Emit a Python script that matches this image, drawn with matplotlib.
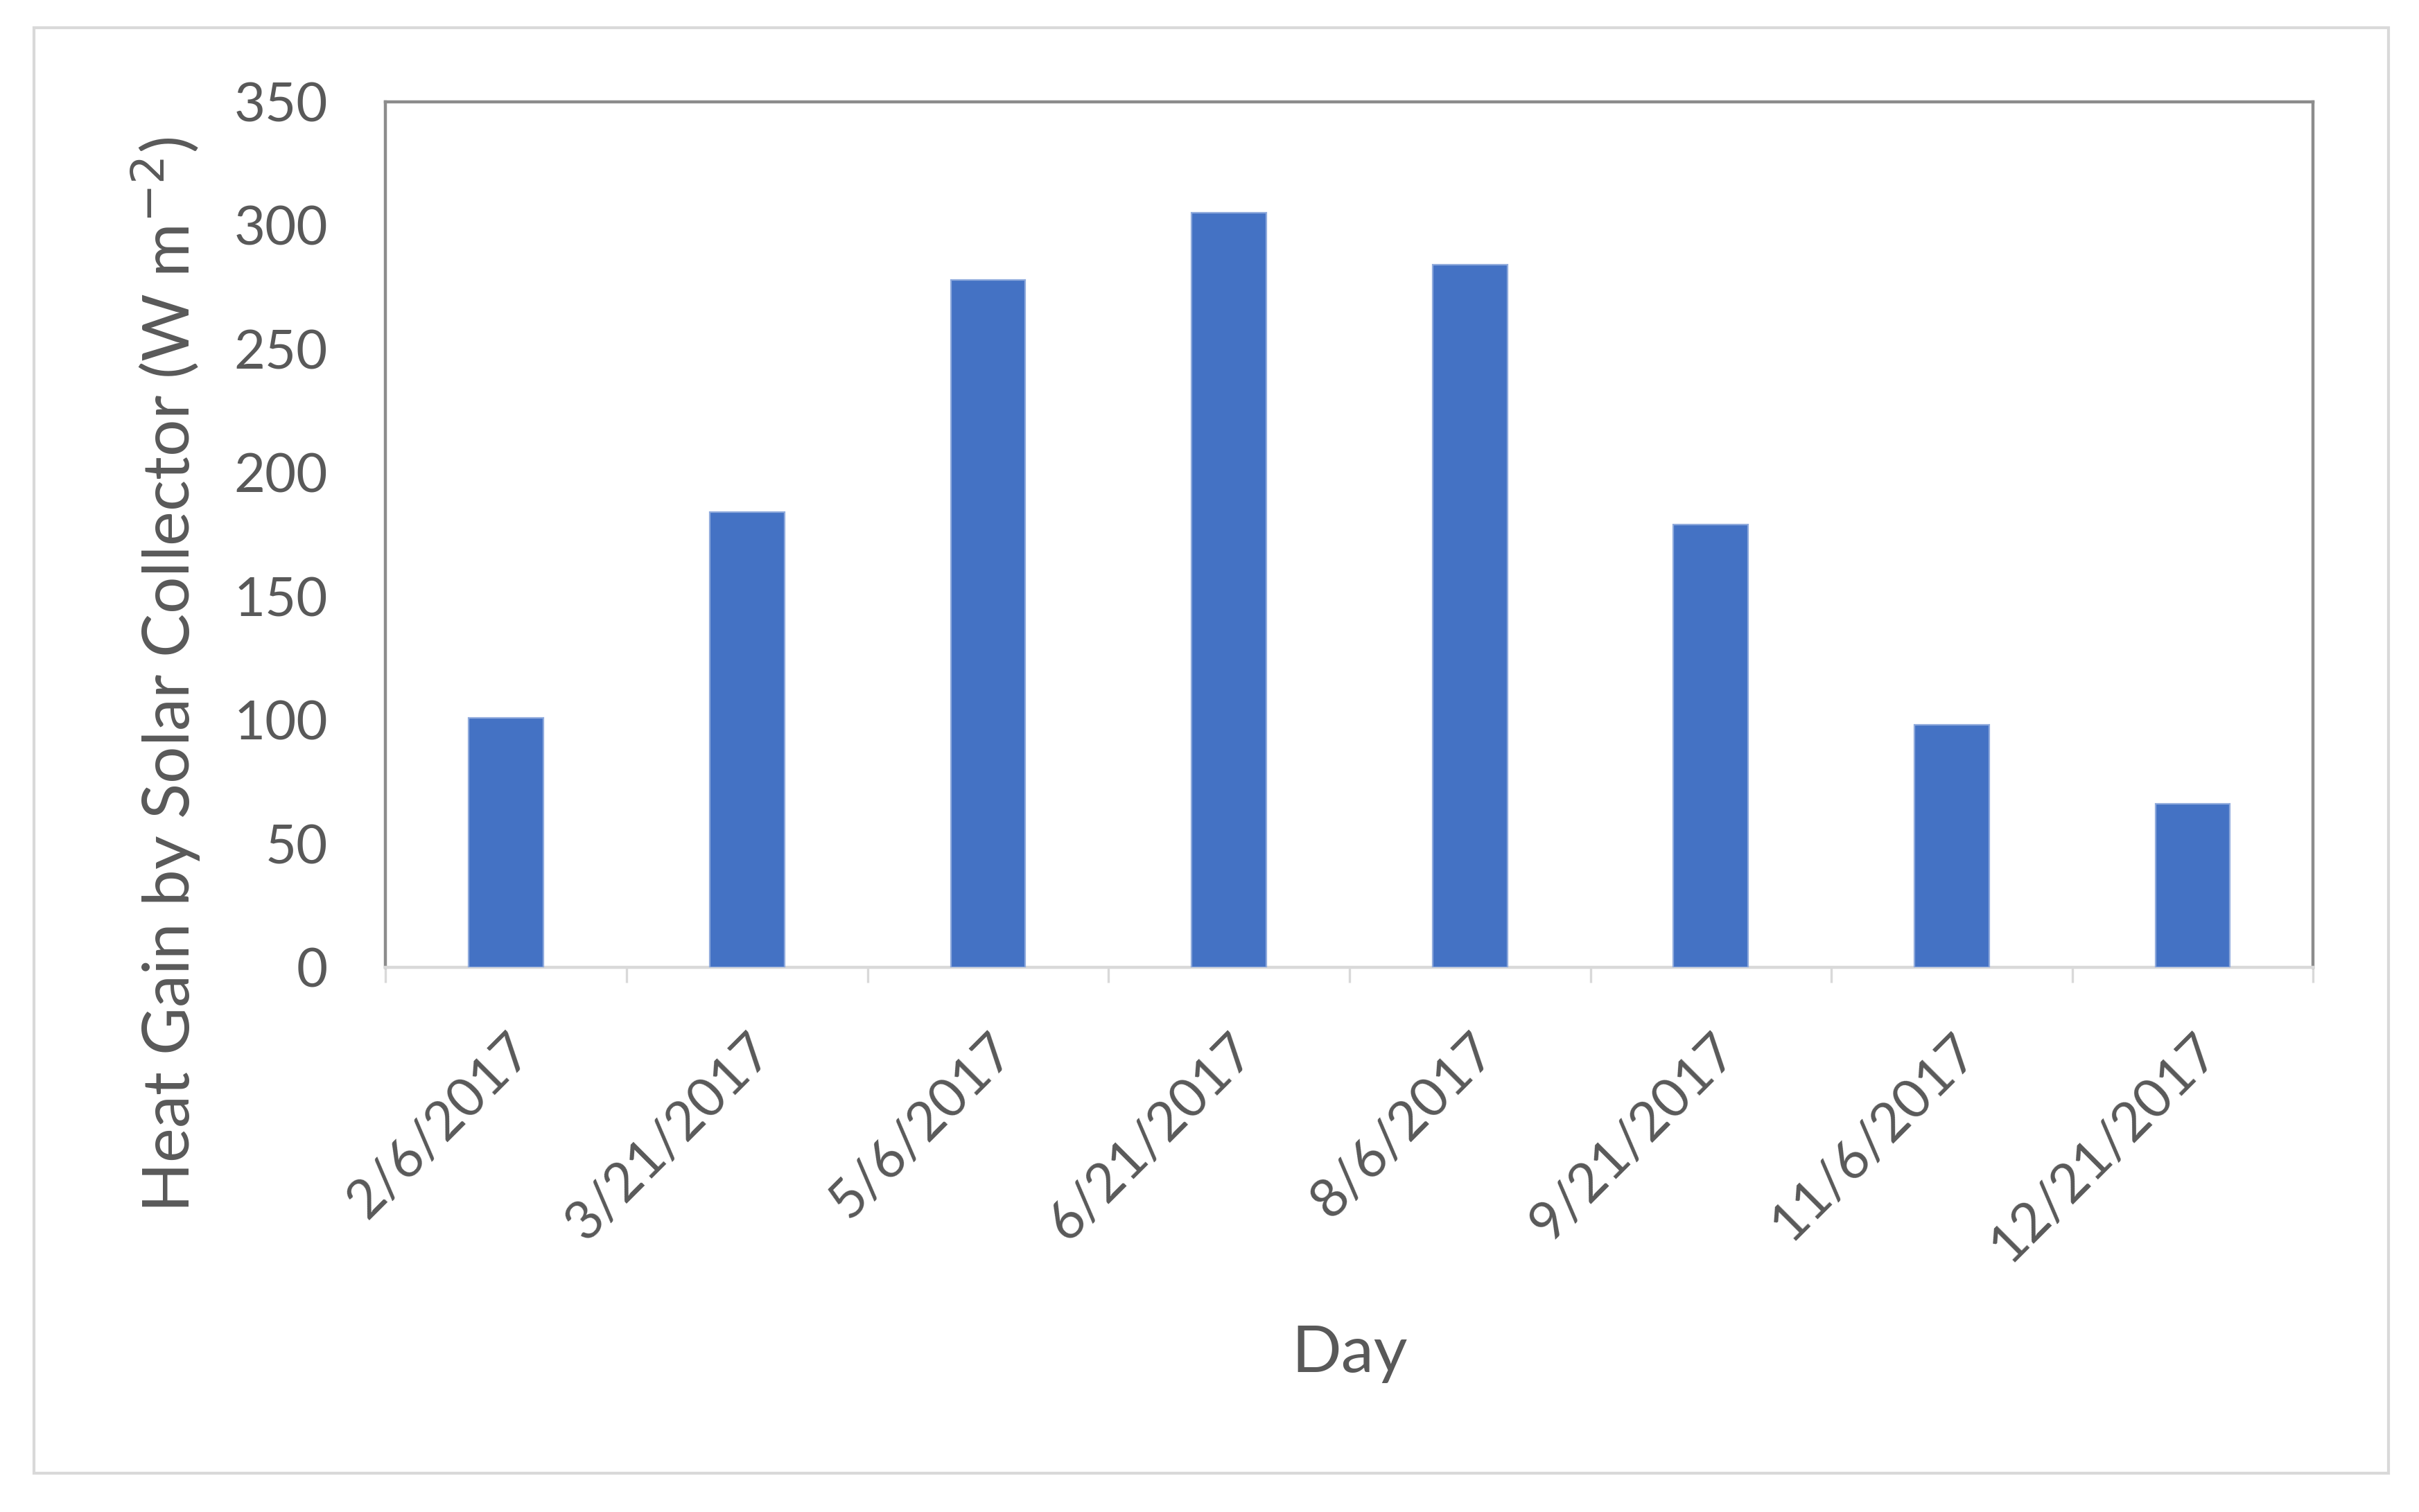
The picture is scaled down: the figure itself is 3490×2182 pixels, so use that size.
import matplotlib
matplotlib.use('Agg')
import matplotlib.pyplot as plt
from matplotlib.patches import Rectangle
import numpy as np

# data
days = ['2/6/2017', '3/21/2017', '5/6/2017', '6/21/2017',
        '8/6/2017', '9/21/2017', '11/6/2017', '12/21/2017']
heat_gain = [101, 184, 278, 305, 284, 179, 98, 66]
y_ticks = [0, 50, 100, 150, 200, 250, 300, 350]

plt.rcParams['font.family'] = ['Lato', 'DejaVu Sans']
txt = '#595959'
fs = 28

fig = plt.figure(figsize=(17.455, 10.91), dpi=200)
ax = fig.add_axes([0.1594, 0.3602, 0.7966, 0.5725])

x = np.arange(len(days))
ax.bar(x, heat_gain, width=0.31, color='#4472C4', edgecolor='#8faadc', linewidth=0.8, zorder=3)

ax.set_xlim(-0.5, len(days) - 0.5)
ax.set_ylim(0, 350)
ax.set_yticks(y_ticks)
ax.tick_params(axis='y', length=0, labelsize=fs, labelcolor=txt, pad=30)

ax.set_xticks(x)
ax.set_xticklabels(days, rotation=45, ha='right', rotation_mode='anchor')
ax.tick_params(axis='x', which='major', length=0, labelsize=fs, labelcolor=txt, pad=30)
ax.set_xticks(np.arange(-0.5, len(days)), minor=True)
ax.tick_params(axis='x', which='minor', length=8, width=1.2, color='#d9d9d9')

for s in ['top', 'right', 'left']:
    ax.spines[s].set_color('#8c8c8c')
    ax.spines[s].set_linewidth(1.6)
ax.spines['bottom'].set_color('#d9d9d9')
ax.spines['bottom'].set_linewidth(1.6)

ax.set_ylabel('Heat Gain by Solar Collector (W m$^{-2}$)', fontsize=34, color=txt)
ax.yaxis.set_label_coords(-0.095, 0.338)
ax.set_xlabel('Day', fontsize=34, color=txt, labelpad=28)

# light outer frame
fig.patches.append(Rectangle((0.014, 0.0255), 0.973, 0.956, transform=fig.transFigure,
                             fill=False, edgecolor='#d9d9d9', linewidth=1.5))

fig.savefig('out.png', dpi=200)
